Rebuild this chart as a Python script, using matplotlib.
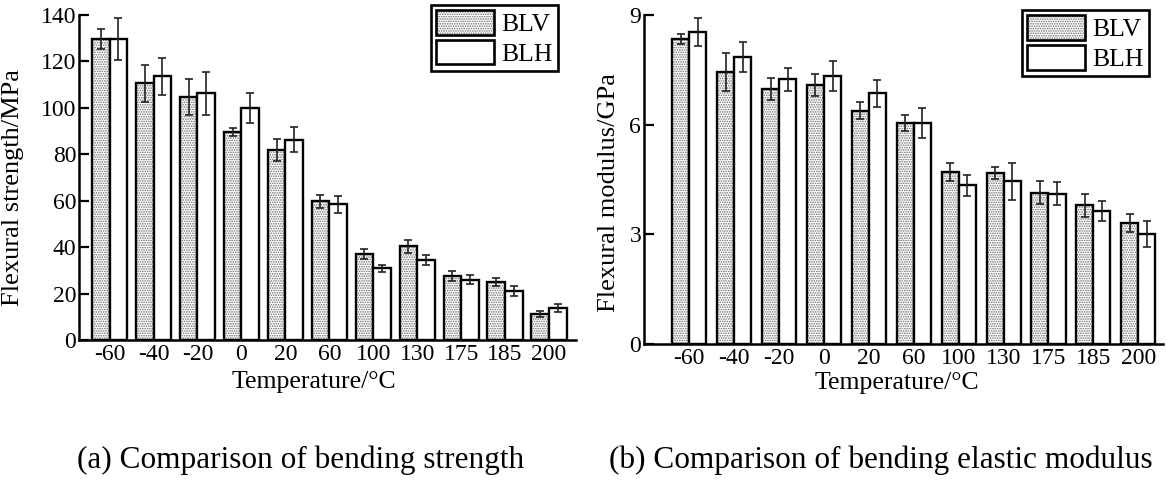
import matplotlib.pyplot as plt
import numpy as np
from matplotlib.patches import Patch
from matplotlib.legend_handler import HandlerTuple

plt.rcParams['font.family'] = ['Liberation Serif', 'DejaVu Serif']
plt.rcParams['hatch.linewidth'] = 0.8

temps = ['-60', '-40', '-20', '0', '20', '60', '100', '130', '175', '185', '200']

# flexural strength, MPa
blv_strength = [129.7, 110.6, 104.7, 89.6, 81.9, 59.7, 37.0, 40.3, 27.6, 25.0, 11.2]
blv_strength_err = [4.3, 8.0, 7.6, 1.7, 4.6, 2.7, 2.0, 2.8, 2.2, 1.7, 1.3]
blh_strength = [129.7, 113.7, 106.3, 99.8, 86.2, 58.4, 30.9, 34.6, 26.0, 21.1, 13.8]
blh_strength_err = [9.0, 8.0, 9.2, 6.5, 5.4, 3.7, 1.4, 2.2, 1.9, 2.0, 1.8]

# flexural modulus, GPa
blv_modulus = [8.34, 7.44, 6.98, 7.09, 6.38, 6.05, 4.71, 4.68, 4.14, 3.79, 3.31]
blv_modulus_err = [0.14, 0.53, 0.30, 0.31, 0.23, 0.22, 0.24, 0.17, 0.31, 0.32, 0.25]
blh_modulus = [8.54, 7.85, 7.24, 7.32, 6.86, 6.05, 4.34, 4.45, 4.11, 3.64, 3.01]
blh_modulus_err = [0.38, 0.41, 0.31, 0.41, 0.37, 0.42, 0.29, 0.50, 0.32, 0.28, 0.36]

FS = 17
DOT = '#6e6e6e'


def draw_panel(ax, v1, e1, v2, e2, bw, ymax, yticks, ylabel, xlim, ylab_pos, xlab_pos):
    x = np.arange(len(temps))
    # dotted fill for BLV, outlines drawn on top
    ax.bar(x - bw / 2, v1, bw, color='white', edgecolor=DOT, hatch='.......', linewidth=0)
    ax.bar(x - bw / 2, v1, bw, fill=False, edgecolor='black', linewidth=1.7)
    ax.bar(x + bw / 2, v2, bw, color='white', edgecolor='black', linewidth=1.7)
    ax.errorbar(x - bw / 2, v1, yerr=e1, fmt='none', ecolor='#222222', elinewidth=1.2, capsize=3, capthick=1.2)
    ax.errorbar(x + bw / 2, v2, yerr=e2, fmt='none', ecolor='#222222', elinewidth=1.2, capsize=3, capthick=1.2)

    ax.set_xlim(*xlim)
    ax.set_ylim(0, ymax)
    ax.set_yticks(yticks)
    ax.set_xticks(x)
    ax.set_xticklabels(temps, fontsize=FS)
    ax.tick_params(axis='x', length=0, pad=3)
    ax.tick_params(axis='y', direction='in', length=7, width=1.6, labelsize=FS, pad=2)
    for s in ['top', 'right']:
        ax.spines[s].set_visible(False)
    for s in ['left', 'bottom']:
        ax.spines[s].set_linewidth(1.8)
    ax.set_ylabel(ylabel, fontsize=19, va='center')
    ax.yaxis.set_label_coords(*ylab_pos)
    ax.set_xlabel('Temperature/\u00b0C', fontsize=18.5, va='center')
    ax.xaxis.set_label_coords(*xlab_pos)


fig = plt.figure(figsize=(11.66, 4.8), dpi=100)
ax1 = fig.add_axes([0.0678, 0.2917, 0.4262, 0.677])
ax2 = fig.add_axes([0.5523, 0.2833, 0.4451, 0.6854])

draw_panel(ax1, blv_strength, blv_strength_err, blh_strength, blh_strength_err, 0.40,
           140, np.arange(0, 141, 20), 'Flexural strength/MPa', (-0.694, 10.614),
           (-0.133, 0.469), (0.473, -0.129))
draw_panel(ax2, blv_modulus, blv_modulus_err, blh_modulus, blh_modulus_err, 0.38,
           9, [0, 3, 6, 9], 'Flexural modulus/GPa', (-1.009, 10.55),
           (-0.0674, 0.46), (0.4865, -0.117))

h_dot = (Patch(facecolor='white', edgecolor=DOT, hatch='.......', linewidth=0),
         Patch(fill=False, edgecolor='black', linewidth=1.9))
h_open = Patch(facecolor='white', edgecolor='black', linewidth=1.9)

for ax, anchor in [(ax1, (0.4786, 0.9896)), (ax2, (0.9854, 0.979))]:
    leg = ax.legend([h_dot, h_open], ['BLV', 'BLH'], loc='upper right',
                    bbox_to_anchor=anchor, bbox_transform=fig.transFigure,
                    handler_map={tuple: HandlerTuple(ndivide=1, pad=0)},
                    fontsize=18.5, frameon=True, fancybox=False, framealpha=1,
                    handlelength=2.25, handleheight=1.09, handletextpad=0.3,
                    labelspacing=0.15, borderpad=0.2, borderaxespad=0)
    leg.get_frame().set_edgecolor('black')
    leg.get_frame().set_linewidth(1.9)

fig.text(0.258, 0.041, '(a) Comparison of bending strength', fontsize=22.5, ha='center', va='center')
fig.text(0.755, 0.041, '(b) Comparison of bending elastic modulus', fontsize=22.5, ha='center', va='center')

fig.savefig('out.png', dpi=100)
